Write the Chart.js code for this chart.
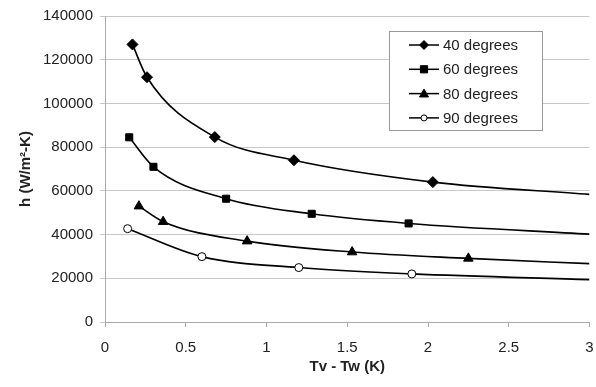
<!DOCTYPE html>
<html>
<head>
<meta charset="utf-8">
<script src="https://cdn.jsdelivr.net/npm/chart.js@4.4.1/dist/chart.umd.min.js"></script>
<style>
  html, body { margin: 0; padding: 0; background: #fff; }
  #wrap { width: 596px; height: 387px; }
</style>
</head>
<body>
<div id="wrap"><canvas id="myChart" width="596" height="387"></canvas></div>
<script>
// last point of each series is where the curve ends at x = 3 (no marker)
let labels = ['40 degrees', '60 degrees', '80 degrees', '90 degrees'];
let x40 = [0.17, 0.26, 0.68, 1.17, 2.03, 3];
let h40 = [127000, 112000, 84600, 74000, 64000, 58400];
let x60 = [0.15, 0.30, 0.75, 1.28, 1.88, 3];
let h60 = [84500, 71000, 56400, 49500, 45100, 40200];
let x80 = [0.21, 0.36, 0.88, 1.53, 2.25, 3];
let h80 = [53000, 45900, 37000, 32000, 29100, 26700];
let x90 = [0.14, 0.60, 1.20, 1.90, 3];
let h90 = [42700, 29900, 24900, 22000, 19400];
let xTicks = [0, 0.5, 1, 1.5, 2, 2.5, 3];
let yTicks = [0, 20000, 40000, 60000, 80000, 100000, 120000, 140000];

let styles = ['rectRot', 'rect', 'triangle', 'circle'];
let radii = [5.5, 5, 5.5, 4];
let fills = ['#000', '#000', '#000', '#fff'];

function pts(xs, ys) {
    return xs.map((x, i) => ({ x: x, y: ys[i] }));
}
let series = [pts(x40, h40), pts(x60, h60), pts(x80, h80), pts(x90, h90)];

let FONT = "'Liberation Sans', Arial, sans-serif";

function drawMarker(ctx, style, r, fill, x, y) {
    ctx.save();
    ctx.beginPath();
    if (style === 'rectRot') {
        ctx.moveTo(x, y - r); ctx.lineTo(x + r, y); ctx.lineTo(x, y + r); ctx.lineTo(x - r, y); ctx.closePath();
    } else if (style === 'rect') {
        ctx.rect(x - r * 0.9, y - r * 0.9, r * 1.8, r * 1.8);
    } else if (style === 'triangle') {
        ctx.moveTo(x, y - r); ctx.lineTo(x + r, y + r * 0.75); ctx.lineTo(x - r, y + r * 0.75); ctx.closePath();
    } else {
        ctx.arc(x, y, r, 0, Math.PI * 2);
    }
    ctx.fillStyle = fill;
    ctx.fill();
    ctx.lineWidth = 1;
    ctx.strokeStyle = '#000';
    ctx.stroke();
    ctx.restore();
}

// legend box drawn inside the plot
let boxLegend = {
    id: 'boxLegend',
    afterDraw(chart) {
        let ctx = chart.ctx;
        let bx = 389, by = 31, bw = 153, bh = 99;
        ctx.save();
        ctx.fillStyle = '#fff';
        ctx.fillRect(bx, by, bw, bh);
        ctx.strokeStyle = '#999';
        ctx.lineWidth = 1;
        ctx.strokeRect(bx + 0.5, by + 0.5, bw, bh);
        ctx.font = '15px ' + FONT;
        ctx.textBaseline = 'middle';
        ctx.fillStyle = '#222';
        labels.forEach((lab, i) => {
            let y = 45 + i * 24.3;
            ctx.beginPath();
            ctx.moveTo(409, y); ctx.lineTo(439, y);
            ctx.strokeStyle = '#000';
            ctx.lineWidth = 1.5;
            ctx.stroke();
            drawMarker(ctx, styles[i], i === 3 ? 3 : radii[i] - 1, fills[i], 424, y);
            ctx.fillStyle = '#222';
            ctx.fillText(lab, 443, y + 1);
        });
        ctx.restore();
    }
};

let datasets = series.map((data, i) => ({
    label: labels[i],
    data: data,
    showLine: true,
    borderColor: '#000',
    borderWidth: 1.6,
    cubicInterpolationMode: 'monotone',
    pointStyle: styles[i],
    pointRadius: ctx => ctx.dataIndex === data.length - 1 ? 0 : radii[i],
    pointBackgroundColor: fills[i],
    pointBorderColor: '#000',
    pointBorderWidth: 1
}));

let chart = new Chart(document.getElementById('myChart').getContext('2d'), {
    type: 'scatter',
    data: { datasets: datasets },
    options: {
        responsive: false,
        animation: false,
        layout: { padding: { top: 16, right: 0, left: 0, bottom: 0 } },
        plugins: {
            legend: { display: false },
            tooltip: { enabled: false }
        },
        scales: {
            x: {
                type: 'linear',
                min: 0, max: 3,
                afterBuildTicks: s => { s.ticks = xTicks.map(v => ({ value: v })); },
                afterFit: s => { s.height = 65; s.paddingLeft = 0; s.paddingRight = 5; },
                grid: { drawOnChartArea: false, color: '#aaa', tickLength: 5 },
                border: { color: '#aaa' },
                ticks: { color: '#222', font: { size: 15, family: FONT }, padding: 12, callback: v => String(v) },
                title: { display: true, text: 'Tv - Tw (K)', color: '#222', font: { size: 15, weight: 'bold', family: FONT }, padding: { top: 4, bottom: 11 } }
            },
            y: {
                min: 0, max: 140000,
                afterBuildTicks: s => { s.ticks = yTicks.map(v => ({ value: v })); },
                afterFit: s => { s.width = 105; s.paddingTop = 0; s.paddingBottom = 0; },
                grid: { color: '#c8c8c8', tickLength: 5 },
                border: { color: '#aaa' },
                ticks: { color: '#222', font: { size: 15, family: FONT }, padding: 7, callback: v => String(v) },
                title: { display: true, text: 'h (W/m²-K)', color: '#222', font: { size: 15, weight: 'bold', family: FONT }, padding: { top: 17, bottom: 4 } }
            }
        }
    },
    plugins: [boxLegend]
});
</script>
</body>
</html>
